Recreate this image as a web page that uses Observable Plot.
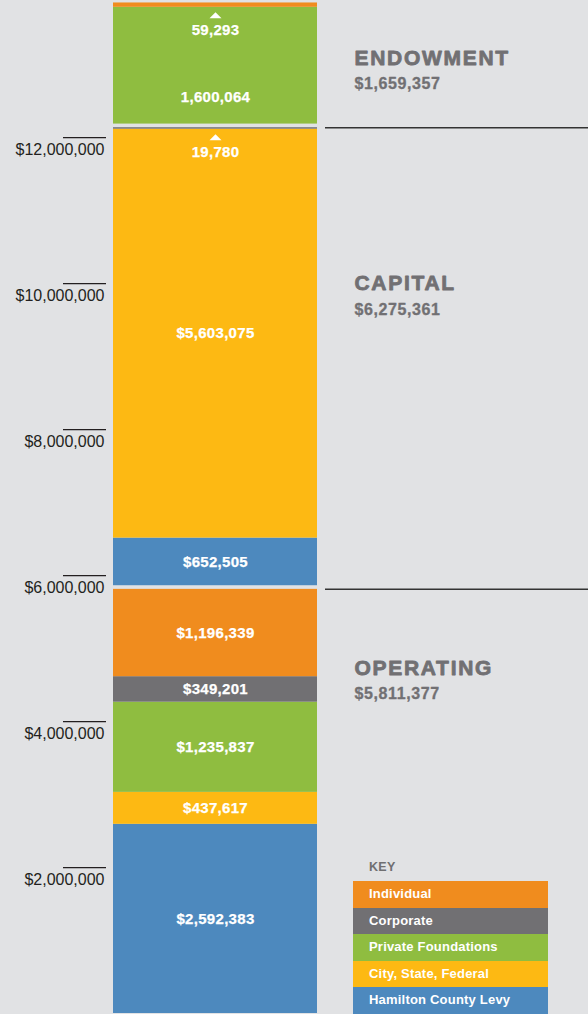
<!DOCTYPE html>
<html><head><meta charset="utf-8">
<script src="https://cdn.jsdelivr.net/npm/d3@7"></script>
<script src="https://cdn.jsdelivr.net/npm/@observablehq/plot@0.6"></script>
<style>
html,body{margin:0;padding:0;background:#e1e2e4;}
#wrap{position:relative;width:588px;height:1014px;overflow:hidden;font-family:"Liberation Sans",Arial,sans-serif;}
#wrap svg{position:absolute;left:0;top:0;}
#key{position:absolute;left:369px;top:860px;font-size:12.5px;font-weight:bold;color:#6f6f71;letter-spacing:0.3px;}
#legend{position:absolute;left:353px;top:881px;width:195px;}
#legend div{height:26.6px;line-height:26.6px;padding-left:16px;color:#fff;font-weight:bold;font-size:13px;letter-spacing:0.2px;}
text[aria-label="group-title"]{letter-spacing:1.7px;}
text[aria-label="group-total"]{letter-spacing:0.6px;}
text[aria-label="bar-label"]{letter-spacing:0.3px;}
</style></head><body><div id="wrap"></div>
<script>
// ---- data ----
const groups = ["Operating", "Capital", "Endowment"];
const groupTitles = ["OPERATING", "CAPITAL", "ENDOWMENT"];
const groupTotals = [5811377, 6275361, 1659357];
const sources = ["Hamilton County Levy", "City, State, Federal", "Private Foundations", "Corporate", "Individual"];
const sourceColors = ["#4d89be", "#fdb913", "#8fbd40", "#717073", "#f08c1e"];
const operatingValues = [2592383, 437617, 1235837, 349201, 1196339];
const capitalValues = [652505, 5603075, 0, 19780, 0];
const endowmentValues = [0, 0, 1600064, 0, 59293];
const groupDollarSign = [true, true, false];
const legendOrder = ["Individual", "Corporate", "Private Foundations", "City, State, Federal", "Hamilton County Levy"];
const yTicks = [2000000, 4000000, 6000000, 8000000, 10000000, 12000000];

// ---- layout helpers ----
const GAP = 50000;        // visual gap between groups (in $)
const SMALL = 100000;     // segments too thin for an inside label
const fmt = d3.format(",");
const groupValues = [operatingValues, capitalValues, endowmentValues];
const segs = [];
const groupTops = [];
let base = 0;
groupValues.forEach((vals, gi) => {
  if (gi > 0) base += GAP;
  let y = base;
  const g = [];
  vals.forEach((v, si) => {
    if (!v) return;
    g.push({group: groups[gi], source: sources[si], value: v, y1: y, y2: y + v, dollar: groupDollarSign[gi], small: v < SMALL});
    y += v;
  });
  g.forEach((s, i) => {
    const above = g[i + 1];
    s.labelY = (above && above.small && s.value < 3000000) ? s.y1 + 0.23 * s.value : (s.y1 + s.y2) / 2;
  });
  segs.push(...g);
  groupTops.push(y);
  base = y;
});
const titleAnchor = [4730000, 10000000, 13090000];
const groupInfo = groups.map((g, i) => ({title: groupTitles[i], total: groupTotals[i], y: titleAnchor[i]}));

const flatTriangle = {
  draw(ctx, size) {
    const r = Math.sqrt(size / Math.PI);
    ctx.moveTo(-1.5 * r, 0.75 * r);
    ctx.lineTo(0, -0.75 * r);
    ctx.lineTo(1.5 * r, 0.75 * r);
    ctx.closePath();
  }
};
const X = () => "funding";

const chart = Plot.plot({
  width: 588,
  height: 1014,
  marginLeft: 113,
  marginRight: 271,
  marginTop: 0,
  marginBottom: 1,
  style: {background: "transparent", fontFamily: "Liberation Sans, Arial, sans-serif"},
  x: {axis: null, padding: 0},
  y: {axis: null, domain: [0, 13880000]},
  color: {domain: sources, range: sourceColors},
  marks: [
    Plot.barY(segs, {x: X, y1: "y1", y2: "y2", fill: "source"}),
    Plot.text(segs.filter(d => !d.small), {
      x: X, y: "labelY", text: d => (d.dollar ? "$" : "") + fmt(d.value),
      fill: "white", stroke: "white", strokeWidth: 0.25, fontWeight: "bold", fontSize: 15,
      ariaLabel: () => "bar-label"
    }),
    Plot.dot(segs.filter(d => d.small), {x: X, y: "y1", dy: 8, symbol: flatTriangle, r: 4, fill: "white", stroke: null}),
    Plot.text(segs.filter(d => d.small), {
      x: X, y: "y1", dy: 23, text: d => fmt(d.value),
      fill: "white", stroke: "white", strokeWidth: 0.25, fontWeight: "bold", fontSize: 15,
      ariaLabel: () => "bar-label"
    }),
    Plot.ruleY(yTicks, {stroke: "#231f20", strokeWidth: 1.2, insetLeft: -50, insetRight: 211}),
    Plot.text(yTicks, {
      y: d => d, frameAnchor: "left", dx: -9, dy: 12, textAnchor: "end",
      text: d => "$" + fmt(d), fontSize: 16, fill: "#231f20"
    }),
    Plot.ruleY(groupTops.slice(0, 2), {stroke: "#333", strokeWidth: 1.5, insetLeft: 212, insetRight: -271}),
    Plot.text(groupInfo, {
      y: "y", frameAnchor: "right", dx: 37, textAnchor: "start", text: "title",
      fontSize: 21, fontWeight: 900, fill: "#717073", stroke: "#717073", strokeWidth: 0.8,
      ariaLabel: () => "group-title"
    }),
    Plot.text(groupInfo, {
      y: "y", frameAnchor: "right", dx: 37, dy: 26, textAnchor: "start", text: d => "$" + fmt(d.total),
      fontSize: 16, fontWeight: "bold", fill: "#717073", stroke: "#717073", strokeWidth: 0.3,
      ariaLabel: () => "group-total"
    })
  ]
});

const wrap = document.getElementById("wrap");
wrap.appendChild(chart);
const key = document.createElement("div");
key.id = "key"; key.textContent = "KEY";
wrap.appendChild(key);
const legend = document.createElement("div");
legend.id = "legend";
legendOrder.forEach(name => {
  const row = document.createElement("div");
  row.style.background = sourceColors[sources.indexOf(name)];
  row.textContent = name;
  legend.appendChild(row);
});
wrap.appendChild(legend);
</script>
</body></html>
